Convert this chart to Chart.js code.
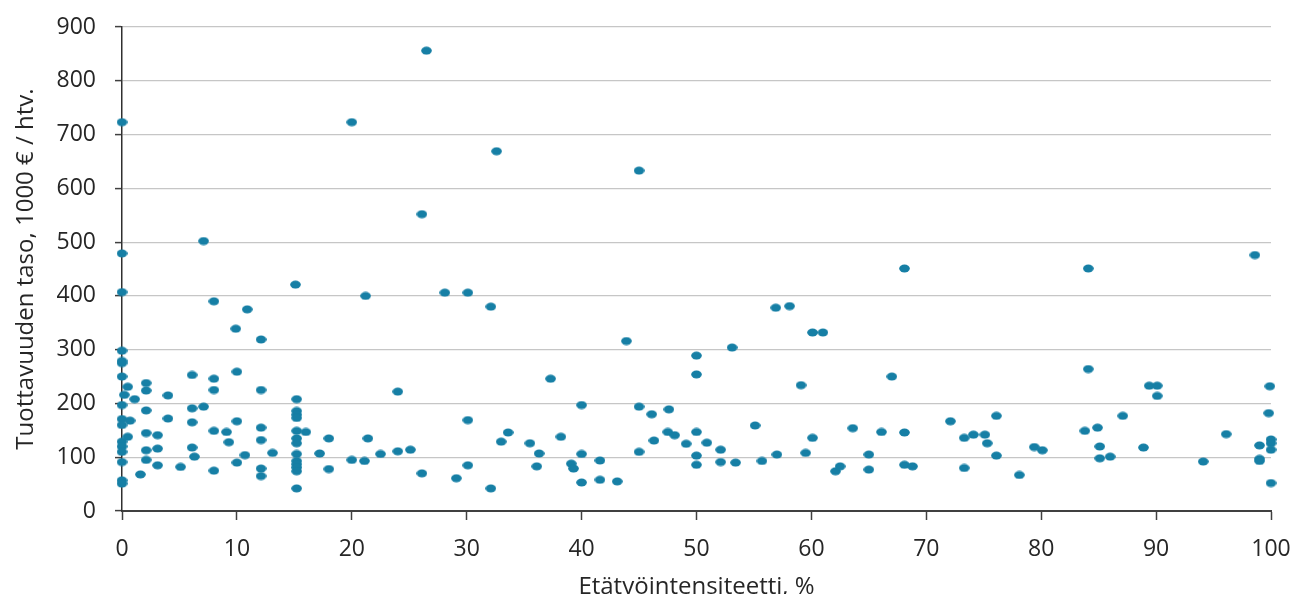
<!DOCTYPE html>
<html>
<head>
<meta charset="utf-8">
<script src="https://cdn.jsdelivr.net/npm/chart.js@4/dist/chart.umd.min.js"></script>
<style>
  html, body { margin: 0; padding: 0; background: #fff; }
  #wrap { width: 1293px; height: 594px; position: relative; }
</style>
</head>
<body>
<div id="wrap"><canvas id="scatter"></canvas></div>
<script>
// Etätyöintensiteetti (%) and tuottavuuden taso (1000 € / htv.), one entry per firm
const remoteShare = [
  0, 0, 0, 0, 0, 0, 0, 0, 0, 0, 0, 0, 0, 0, 0, 0,
  0.2, 0.5, 0.5, 0.7, 1.1, 1.6,
  2.1, 2.1, 2.1, 2.1, 2.1, 2.1,
  3.1, 3.1, 3.1, 4.0, 4.0, 5.1,
  6.1, 6.1, 6.1, 6.1, 6.3, 7.1, 7.1,
  8.0, 8.0, 8.0, 8.0, 8.0, 9.1, 9.3,
  9.9, 10.0, 10.0, 10.0, 10.7, 10.9,
  12.1, 12.1, 12.1, 12.1, 12.1, 12.1, 13.1,
  15.1, 15.2, 15.2, 15.2, 15.2, 15.2, 15.2, 15.2, 15.2, 15.2, 15.2, 15.2, 15.2, 15.2,
  16.0, 17.2, 18.0, 18.0,
  20.0, 20.0, 21.1, 21.2, 21.4, 22.5,
  24.0, 24.0, 25.1, 26.1, 26.1, 26.5,
  28.1, 29.1, 30.1, 30.1, 30.1,
  32.1, 32.1, 32.6, 33.0, 33.6,
  35.5, 36.1, 36.3, 37.3, 38.2, 39.1, 39.3,
  40.0, 40.0, 40.0, 41.6, 41.6, 43.1, 43.9,
  45.0, 45.0, 45.0, 46.1, 46.3, 47.6, 47.5, 48.1, 49.1,
  50.0, 50.0, 50.0, 50.0, 50.0, 50.9,
  52.1, 52.1, 53.1, 53.4,
  55.1, 55.7, 56.9, 57.0, 58.1, 59.1, 59.5,
  60.1, 60.1, 61.0,
  62.1, 62.5, 63.6, 65.0, 65.0, 66.1, 67.0,
  68.1, 68.1, 68.1, 68.8,
  72.1, 73.3, 73.3, 74.1, 75.1, 75.3, 76.1, 76.1,
  78.1, 79.4, 80.1,
  83.8, 84.1, 84.1, 84.9, 85.1, 85.1, 86.0, 87.1,
  88.9, 89.4, 90.1, 90.1,
  94.1, 96.1,
  98.6, 99.0, 99.0, 99.0, 99.9, 99.8, 100, 100, 100, 100
];
const productivity = [
  723, 479, 407, 298, 279, 275, 250, 197, 171, 160, 129, 120, 110, 91, 57, 51,
  216, 231, 138, 168, 208, 68,
  238, 224, 187, 145, 113, 95,
  141, 116, 85, 215, 172, 82,
  253, 191, 165, 118, 101, 194, 502,
  390, 246, 225, 149, 75, 147, 128,
  339, 259, 167, 90, 104, 375,
  319, 225, 155, 132, 79, 65, 108,
  421, 208, 186, 179, 173, 149, 135, 126, 106, 93, 87, 81, 74, 42,
  147, 107, 135, 78,
  723, 95, 93, 400, 135, 106,
  222, 111, 114, 552, 70, 856,
  406, 61, 406, 169, 85,
  380, 42, 669, 129, 146,
  126, 83, 107, 246, 138, 88, 79,
  197, 106, 53, 94, 58, 55, 316,
  633, 194, 110, 180, 131, 189, 147, 141, 125,
  289, 254, 147, 103, 86, 127,
  114, 91, 304, 90,
  159, 93, 378, 105, 381, 234, 108,
  332, 136, 332,
  74, 83, 154, 105, 77, 147, 250,
  451, 146, 86, 83,
  167, 136, 80, 142, 142, 126, 177, 103,
  67, 119, 113,
  149, 451, 264, 155, 120, 98, 101, 177,
  118, 233, 233, 214,
  92, 143,
  476, 122, 97, 93, 232, 182, 133, 126, 114, 52
];

const xTitle = 'Etätyöintensiteetti, %';
const yTitle = 'Tuottavuuden taso, 1000 € / htv.';

const markerColor = '#167fa5';
const textColor = '#262626';
const fontFamily = "'Open Sans', 'Liberation Sans', sans-serif";

// flat oval marker like the original
const marker = document.createElement('canvas');
marker.width = 11;
marker.height = 9;
const mctx = marker.getContext('2d');
mctx.fillStyle = markerColor;
mctx.beginPath();
mctx.ellipse(5.5, 4.5, 5.3, 4, 0, 0, Math.PI * 2);
mctx.fill();

const points = remoteShare.map((x, i) => ({ x: x, y: productivity[i] }));

const ctx = document.getElementById('scatter');
new Chart(ctx, {
  type: 'scatter',
  data: {
    datasets: [{
      data: points,
      pointStyle: marker,
      pointRadius: 5,
      pointHoverRadius: 5,
      backgroundColor: markerColor,
      borderColor: markerColor,
      clip: false
    }]
  },
  options: {
    responsive: true,
    maintainAspectRatio: false,
    animation: false,
    layout: { padding: { top: 27, right: 22, left: 0, bottom: 0 } },
    plugins: {
      legend: { display: false },
      tooltip: { enabled: false }
    },
    scales: {
      x: {
        type: 'linear',
        min: 0,
        max: 100,
        afterFit: (scale) => {
          scale.height = 83;
          scale.paddingRight = 0;
        },
        ticks: {
          stepSize: 10,
          padding: 16,
          color: textColor,
          font: { family: fontFamily, size: 23 },
          maxRotation: 0
        },
        grid: {
          drawOnChartArea: false,
          tickLength: 9,
          tickColor: '#404040',
          tickWidth: 1.5
        },
        border: { color: '#404040', width: 2 },
        title: {
          display: true,
          text: xTitle,
          color: textColor,
          font: { family: fontFamily, size: 24, lineHeight: 0.55 },
          padding: { top: 0, bottom: 0 }
        }
      },
      y: {
        min: 0,
        max: 900,
        afterFit: (scale) => {
          scale.width = 122;
          scale.paddingTop = 0;
        },
        ticks: {
          stepSize: 100,
          padding: 19,
          color: textColor,
          font: { family: fontFamily, size: 23 }
        },
        grid: {
          color: '#c6c6c6',
          lineWidth: 1.2,
          tickLength: 7,
          tickColor: '#404040',
          tickWidth: 1.5
        },
        border: { color: '#303030', width: 1.5 },
        title: {
          display: true,
          text: yTitle,
          color: textColor,
          font: { family: fontFamily, size: 24 },
          padding: { top: 12, bottom: 0 }
        }
      }
    }
  }
});
</script>
</body>
</html>
